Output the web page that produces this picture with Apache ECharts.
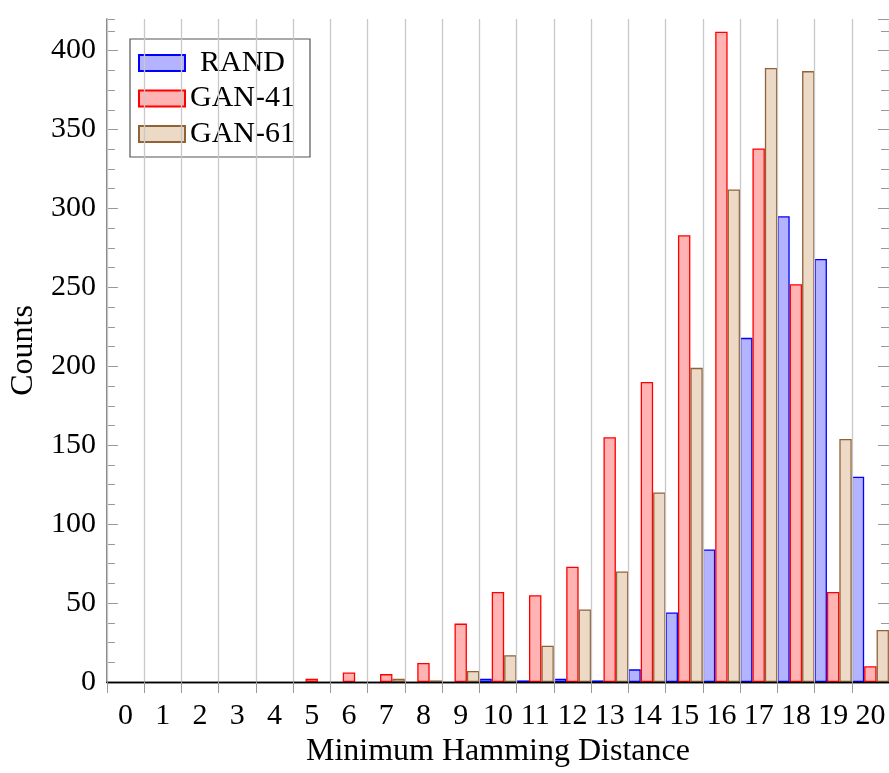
<!DOCTYPE html>
<html>
<head>
<meta charset="utf-8">
<script src="https://cdn.jsdelivr.net/npm/echarts@6/dist/echarts.min.js"></script>
<style>
html,body{margin:0;padding:0;background:#fff;}
#chart{width:889px;height:773px;}
</style>
</head>
<body>
<div id="chart"></div>
<script>
var categories = ['0','1','2','3','4','5','6','7','8','9','10','11','12','13','14','15','16','17','18','19','20'];
var randCounts  = [0,0,0,0,0,0,0,0,0,0,2,1,2,1,8,44,84,218,295,268,130];
var gan41Counts = [0,0,0,0,0,2,6,5,12,37,57,55,73,155,190,283,412,338,252,57,10];
var gan61Counts = [0,0,0,0,0,0,0,2,1,7,17,23,46,70,120,199,312,389,387,154,33];
var seriesNames = ['RAND','GAN-41','GAN-61'];
var yMin = 0, yMax = 420, yMajor = 50, yMinor = 12.5;

var FONT = 'Liberation Serif';
var chart = echarts.init(document.getElementById('chart'), null, {renderer:'canvas'});

// zero counts draw no bar (as in the reference)
function nz(arr){ return arr.map(function(v){ return v === 0 ? null : v; }); }

function hiddenY(pos, interval, len) {
  return {
    type:'value', position:pos, min:yMin, max:yMax, interval:interval,
    axisLine:{show:false}, splitLine:{show:false},
    axisLabel:{show:false},
    axisTick:{show:true, inside:true, length:len, lineStyle:{color:'#999', width:1}}
  };
}

var option = {
  animation:false,
  backgroundColor:'#fff',
  grid:{left:106, top:19, width:788.5, height:663, containLabel:false},
  legend:{
    orient:'vertical', left:130, top:39,
    padding:[9,15,8,8], itemGap:5.5, itemWidth:46, itemHeight:16,
    borderColor:'#555', borderWidth:1.2, backgroundColor:'#fff',
    icon:'rect',
    data:seriesNames,
    formatter:function(n){ return '{c|' + n + '}'; },
    textStyle:{fontFamily:FONT, fontSize:30, color:'#000',
      rich:{c:{fontFamily:FONT, fontSize:30, color:'#000', width:105, align:'center'}}}
  },
  xAxis:[
    {type:'category', data:categories, position:'bottom', boundaryGap:true, z:5,
     axisLine:{show:true, lineStyle:{color:'#000', width:1.3}},
     axisTick:{show:true, inside:false, length:11, lineStyle:{color:'#999', width:1}},
     axisLabel:{fontFamily:FONT, fontSize:30, color:'#000', margin:19, interval:0},
     splitLine:{show:true, lineStyle:{color:'#c8c8c8', width:1.3}},
     name:'Minimum Hamming Distance', nameLocation:'middle', nameGap:42,
     nameTextStyle:{fontFamily:FONT, fontSize:32, color:'#000'}},
    {type:'category', data:categories, position:'top', boundaryGap:true,
     axisLine:{show:true, lineStyle:{color:'#000', width:1.3}},
     axisTick:{show:true, inside:false, length:11, lineStyle:{color:'#999', width:1}},
     axisLabel:{show:false}, splitLine:{show:false}}
  ],
  yAxis:[
    {type:'value', position:'left', min:yMin, max:yMax, interval:yMajor,
     axisLine:{show:true, lineStyle:{color:'#555', width:1.5}},
     axisTick:{show:true, inside:true, length:11, lineStyle:{color:'#999', width:1}},
     axisLabel:{fontFamily:FONT, fontSize:30, color:'#000', margin:11, showMaxLabel:false},
     splitLine:{show:false},
     name:'Counts', nameLocation:'middle', nameGap:66,
     nameTextStyle:{fontFamily:FONT, fontSize:32, color:'#000'}},
    hiddenY('left', yMinor, 8),
    hiddenY('right', yMajor, 11),
    hiddenY('right', yMinor, 8)
  ],
  series:[
    {name:'RAND', type:'bar', data:nz(randCounts), barGap:'0%', barCategoryGap:'0%',
     itemStyle:{color:'#b3b3ff', borderColor:'#0000ff', borderWidth:1.3}},
    {name:'GAN-41', type:'bar', data:nz(gan41Counts), barGap:'0%', barCategoryGap:'0%',
     itemStyle:{color:'#ffb3b3', borderColor:'#ff0000', borderWidth:1.3}},
    {name:'GAN-61', type:'bar', data:nz(gan61Counts), barGap:'0%', barCategoryGap:'0%',
     itemStyle:{color:'#ecd9c6', borderColor:'#8f6238', borderWidth:1.3}}
  ]
};
chart.setOption(option);
</script>
</body>
</html>
